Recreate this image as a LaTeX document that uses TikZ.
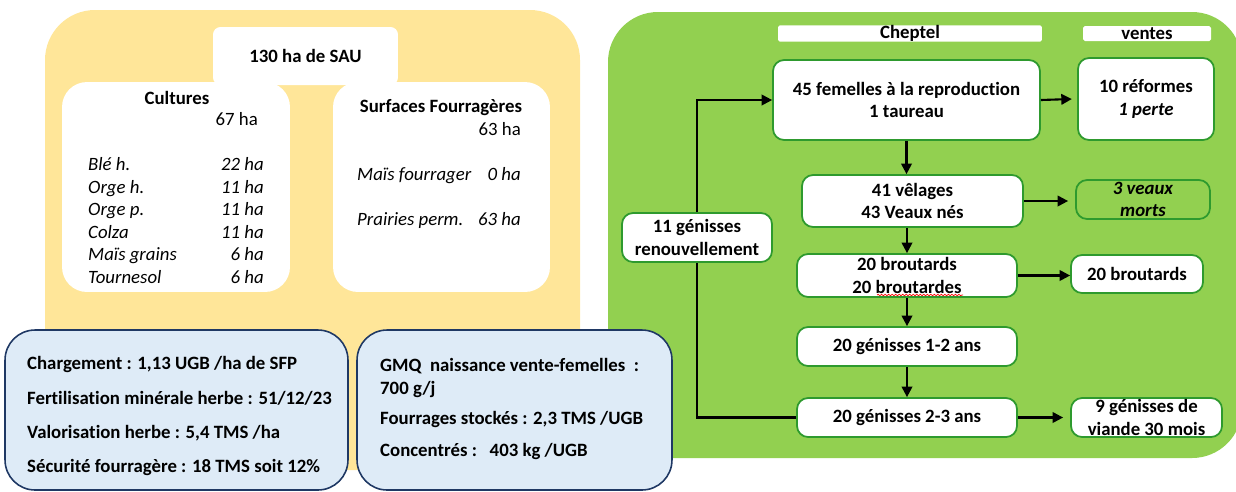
\documentclass[tikz,border=0pt]{standalone}
\usepackage{fontspec}
\setmainfont{Carlito}[Ligatures=NoCommon]
\usetikzlibrary{arrows.meta,decorations.pathmorphing}
\definecolor{jaune}{HTML}{FFE699}
\definecolor{herbe}{HTML}{92D050}
\definecolor{bordvert}{HTML}{2E9A2E}
\definecolor{bleuclair}{HTML}{DEEBF7}
\definecolor{bleufonce}{HTML}{1F3864}
\tikzset{
  every node/.style={font=\fontsize{10.7}{12.8}\selectfont},
  ligne/.style={text height=1.6ex, text depth=0.45ex},
  wpanel/.style={fill=white, rounded corners=0.5cm, inner sep=0pt},
  infobox/.style={draw=bleufonce, line width=0.9pt, fill=bleuclair, rounded corners=0.6cm, inner sep=0pt},
  flowbox/.style={draw=bordvert, line width=1pt, fill=white, rounded corners=0.22cm, align=center, inner sep=1pt},
  bar/.style={fill=white, rounded corners=1pt, inner sep=0pt, minimum height=0.3cm},
  flow/.style={line width=1.2pt},
  fleche/.style={flow, -{Triangle[length=6pt,width=6pt]}},
}
\begin{document}
\begin{tikzpicture}[x=0.02cm, y=-0.02cm]
      \useasboundingbox (0,0) rectangle (1236,491);
      \clip (0,0) rectangle (1236,491);

      % fonds
      \draw[fill=jaune, draw=none, rounded corners=1cm] (45,10) rectangle (580,470);
      \draw[fill=herbe, draw=none, rounded corners=1cm] (608,12) rectangle (1242,458);

      % surfaces
      \node[wpanel, rounded corners=0.15cm, minimum width=3.7cm, minimum height=1.16cm] (sau) at (305.5,56) {\textbf{130 ha de SAU}};
      \node[wpanel, minimum width=4.56cm, minimum height=4.2cm] (cult) at (176,187) {};
      \node[wpanel, minimum width=4.34cm, minimum height=4.2cm] (sfp) at (441.5,187) {};

      \node[ligne] (culttitre) at (177,100) {\textbf{Cultures}};
      \node[ligne, anchor=east] (culttot) at (264,121) {67 ha};
      \foreach \lab/\val/\yy [count=\i] in {Blé h./22/166, Orge h./11/189, Orge p./11/211, Colza/11/234, Maïs grains/6/256, Tournesol/6/279}{
        \node[ligne, anchor=west] (clab\i) at (82,\yy) {\textit{\lab}};
        \node[ligne, anchor=east] (cval\i) at (270,\yy) {\textit{\val{} ha}};
      }

      \node[ligne] (sfptitre) at (441,108) {\textbf{Surfaces Fourragères}};
      \node[ligne, anchor=east] (sfptot) at (527,131) {63 ha};
      \node[ligne, anchor=west] (sfplab1) at (351,176) {\textit{Maïs fourrager}};
      \node[ligne, anchor=east] (sfpval1) at (527,176) {\textit{0 ha}};
      \node[ligne, anchor=west] (sfplab2) at (351,221) {\textit{Prairies perm.}};
      \node[ligne, anchor=east] (sfpval2) at (527,221) {\textit{63 ha}};

      % indicateurs
      \node[infobox, minimum width=6.86cm, minimum height=3.2cm] (ind1) at (176.5,410) {};
      \node[infobox, minimum width=6.3cm, minimum height=3.2cm] (ind2) at (514.5,410) {};
      \node[ligne, anchor=west] (chg) at (21,365) {\textbf{Chargement : 1,13 UGB /ha de SFP}};
      \node[ligne, anchor=west] (fert) at (21,400) {\textbf{Fertilisation minérale herbe : 51/12/23}};
      \node[ligne, anchor=west] (valo) at (21,434) {\textbf{Valorisation herbe : 5,4 TMS /ha}};
      \node[ligne, anchor=west] (secu) at (21,468) {\textbf{Sécurité fourragère : 18 TMS soit 12\%}};
      \node[ligne, anchor=west] (gmq) at (374,367) {\textbf{GMQ~~naissance vente-femelles~~:}};
      \node[ligne, anchor=west] (gmqval) at (374,390) {\textbf{700 g/j}};
      \node[ligne, anchor=west] (stock) at (374,420) {\textbf{Fourrages stockés : 2,3 TMS /UGB}};
      \node[ligne, anchor=west] (conc) at (374,452) {\textbf{Concentrés :~~~403 kg /UGB}};

      % cheptel
      \node[bar, minimum width=5.28cm] (cheptel) at (910,33.5) {\textbf{Cheptel}};
      \node[bar, minimum width=2.56cm] (ventes) at (1147,33.5) {\textbf{ventes}};

      \node[flowbox, minimum width=5.34cm, minimum height=1.6cm] (femelles) at (906.5,100) {\textbf{45 femelles à la reproduction}\\\textbf{1 taureau}};
      \node[flowbox, minimum width=2.72cm, minimum height=1.64cm] (reformes) at (1146,99) {\textbf{10 réformes}\\\textbf{\textit{1 perte}}};
      \node[flowbox, minimum width=4.42cm, minimum height=1.04cm] (velages) at (912.5,201) {\textbf{41 vêlages}\\\textbf{43 Veaux nés}};
      \node[flowbox, fill=herbe, minimum width=2.68cm, minimum height=0.78cm, inner sep=0pt] (morts) at (1143,199.5) {\textbf{\textit{3 veaux}}\\\textbf{\textit{morts}}};
      \node[flowbox, minimum width=3cm, minimum height=0.98cm, inner sep=0pt] (renouv) at (697,237.5) {\textbf{11 génisses}\\\textbf{renouvellement}};
      \node[flowbox, minimum width=4.4cm, minimum height=0.86cm, inner sep=0pt] (brout) at (907,275.5) {\textbf{20 broutards}\\\textbf{20 broutardes}};
      \node[flowbox, minimum width=2.64cm, minimum height=0.76cm] (broutv) at (1137,274) {\textbf{20 broutards}};
      \node[flowbox, minimum width=4.4cm, minimum height=0.78cm] (gen12) at (907,346.5) {\textbf{20 génisses 1-2 ans}};
      \node[flowbox, minimum width=4.4cm, minimum height=0.78cm] (gen23) at (907,417.5) {\textbf{20 génisses 2-3 ans}};
      \node[flowbox, minimum width=3.02cm, minimum height=0.78cm, inner sep=0pt] (viande) at (1146.5,417.5) {\textbf{9 génisses de}\\\textbf{viande 30 mois}};

      \draw[red, decorate, decoration={snake, amplitude=0.4pt, segment length=2pt}] (877,295) -- (963,295);

      % fleches
      \draw[fleche] (femelles.south) -- (femelles.south |- velages.north);
      \draw[fleche] (brout.north |- velages.south) -- (brout.north);
      \draw[fleche] (brout.south) -- (gen12.north);
      \draw[fleche] (gen12.south) -- (gen23.north);
      \draw[fleche] (femelles.east) -- ([xshift=-3pt]reformes.west);
      \draw[fleche] (velages.east) -- ([xshift=-4pt]morts.west |- velages.east);
      \draw[fleche] (brout.east) -- (broutv.west |- brout.east);
      \draw[fleche] (gen23.east) -- ([xshift=-4pt]viande.west);
      \draw[flow] (gen23.west) -| (renouv.south);
      \draw[fleche] (renouv.north) |- (femelles.west);
    \end{tikzpicture}
\end{document}
